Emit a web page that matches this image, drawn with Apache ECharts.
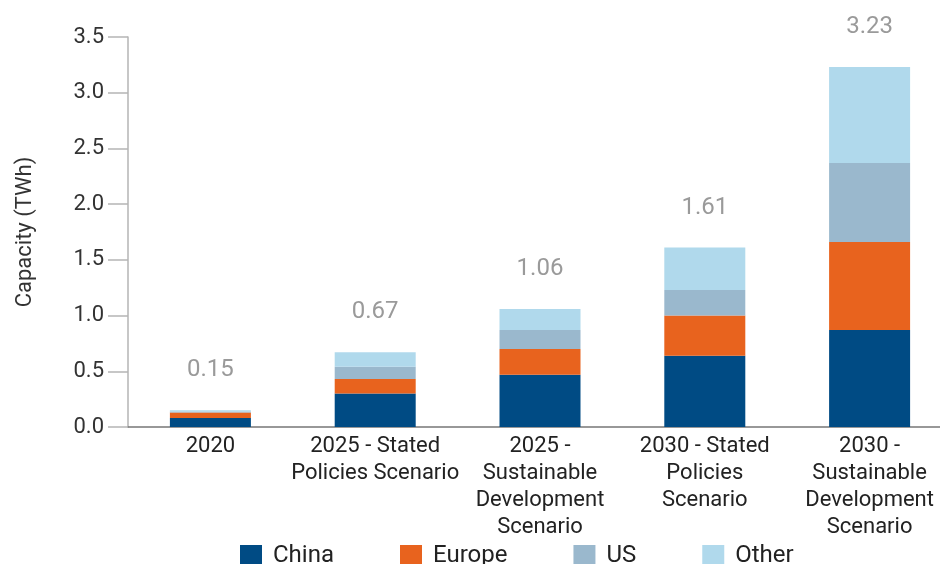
<!DOCTYPE html>
<html>
<head>
<meta charset="utf-8">
<script src="https://cdn.jsdelivr.net/npm/echarts@6/dist/echarts.min.js"></script>
<style>
html,body{margin:0;padding:0;background:#fff;}
#chart{width:940px;height:564px;}
</style>
</head>
<body>
<div id="chart"></div>
<script>
const categories = [
  "2020",
  "2025 - Stated\nPolicies Scenario",
  "2025 -\nSustainable\nDevelopment\nScenario",
  "2030 - Stated\nPolicies\nScenario",
  "2030 -\nSustainable\nDevelopment\nScenario"
];
const china  = [0.08, 0.30, 0.47, 0.64, 0.87];
const europe = [0.05, 0.13, 0.23, 0.36, 0.79];
const us     = [0.01, 0.11, 0.17, 0.23, 0.71];
const other  = [0.01, 0.13, 0.19, 0.38, 0.86];
const totals = ["0.15", "0.67", "1.06", "1.61", "3.23"];
const yTicks = [0, 0.5, 1.0, 1.5, 2.0, 2.5, 3.0, 3.5];

const FONT = "Roboto";
const chart = echarts.init(document.getElementById('chart'), null, {renderer: 'canvas'});

function barSeries(name, data, color, withTotal) {
  const s = {
    name: name,
    type: 'bar',
    stack: 'cap',
    data: data,
    barWidth: 81,
    itemStyle: {color: color},
    emphasis: {disabled: true},
    animation: false
  };
  if (withTotal) {
    s.label = {
      show: true,
      position: 'top',
      distance: 28,
      color: '#9a9a9a',
      fontFamily: FONT,
      fontSize: 24,
      formatter: p => totals[p.dataIndex]
    };
  }
  return s;
}

chart.setOption({
  animation: false,
  textStyle: {fontFamily: FONT},
  grid: {left: 128, top: 37, width: 824, height: 390, containLabel: false, outerBoundsMode: 'none'},
  legend: {
    left: 240,
    top: 544,
    padding: 0,
    itemWidth: 22,
    itemHeight: 22,
    itemGap: 66,
    icon: 'rect',
    textStyle: {fontFamily: FONT, fontSize: 24, color: '#222', padding: [0, 0, 0, 6]},
    data: ['China', 'Europe', 'US', 'Other']
  },
  xAxis: {
    type: 'category',
    data: categories,
    axisLine: {show: true, lineStyle: {color: '#777', width: 1.5}},
    axisTick: {show: false},
    axisLabel: {
      interval: 0,
      margin: 6,
      color: '#222',
      fontFamily: FONT,
      fontSize: 22,
      lineHeight: 27,
      verticalAlign: 'top'
    }
  },
  yAxis: {
    type: 'value',
    min: 0,
    max: 3.5,
    interval: 0.5,
    name: 'Capacity (TWh)',
    nameLocation: 'middle',
    nameGap: 92,
    nameTextStyle: {fontFamily: FONT, fontSize: 22, color: '#333'},
    axisLine: {show: true, lineStyle: {color: '#b5b5b5', width: 1.5}},
    axisTick: {show: true, length: 20, lineStyle: {color: '#b5b5b5', width: 1.5}},
    splitLine: {show: false},
    axisLabel: {
      margin: 24,
      color: '#333',
      fontFamily: FONT,
      fontSize: 22,
      formatter: v => yTicks.includes(v) ? v.toFixed(1) : ''
    }
  },
  series: [
    barSeries('China', china, '#004b84', false),
    barSeries('Europe', europe, '#e8631e', false),
    barSeries('US', us, '#9ab8cd', false),
    barSeries('Other', other, '#b0d9ec', true)
  ]
});
</script>
</body>
</html>
